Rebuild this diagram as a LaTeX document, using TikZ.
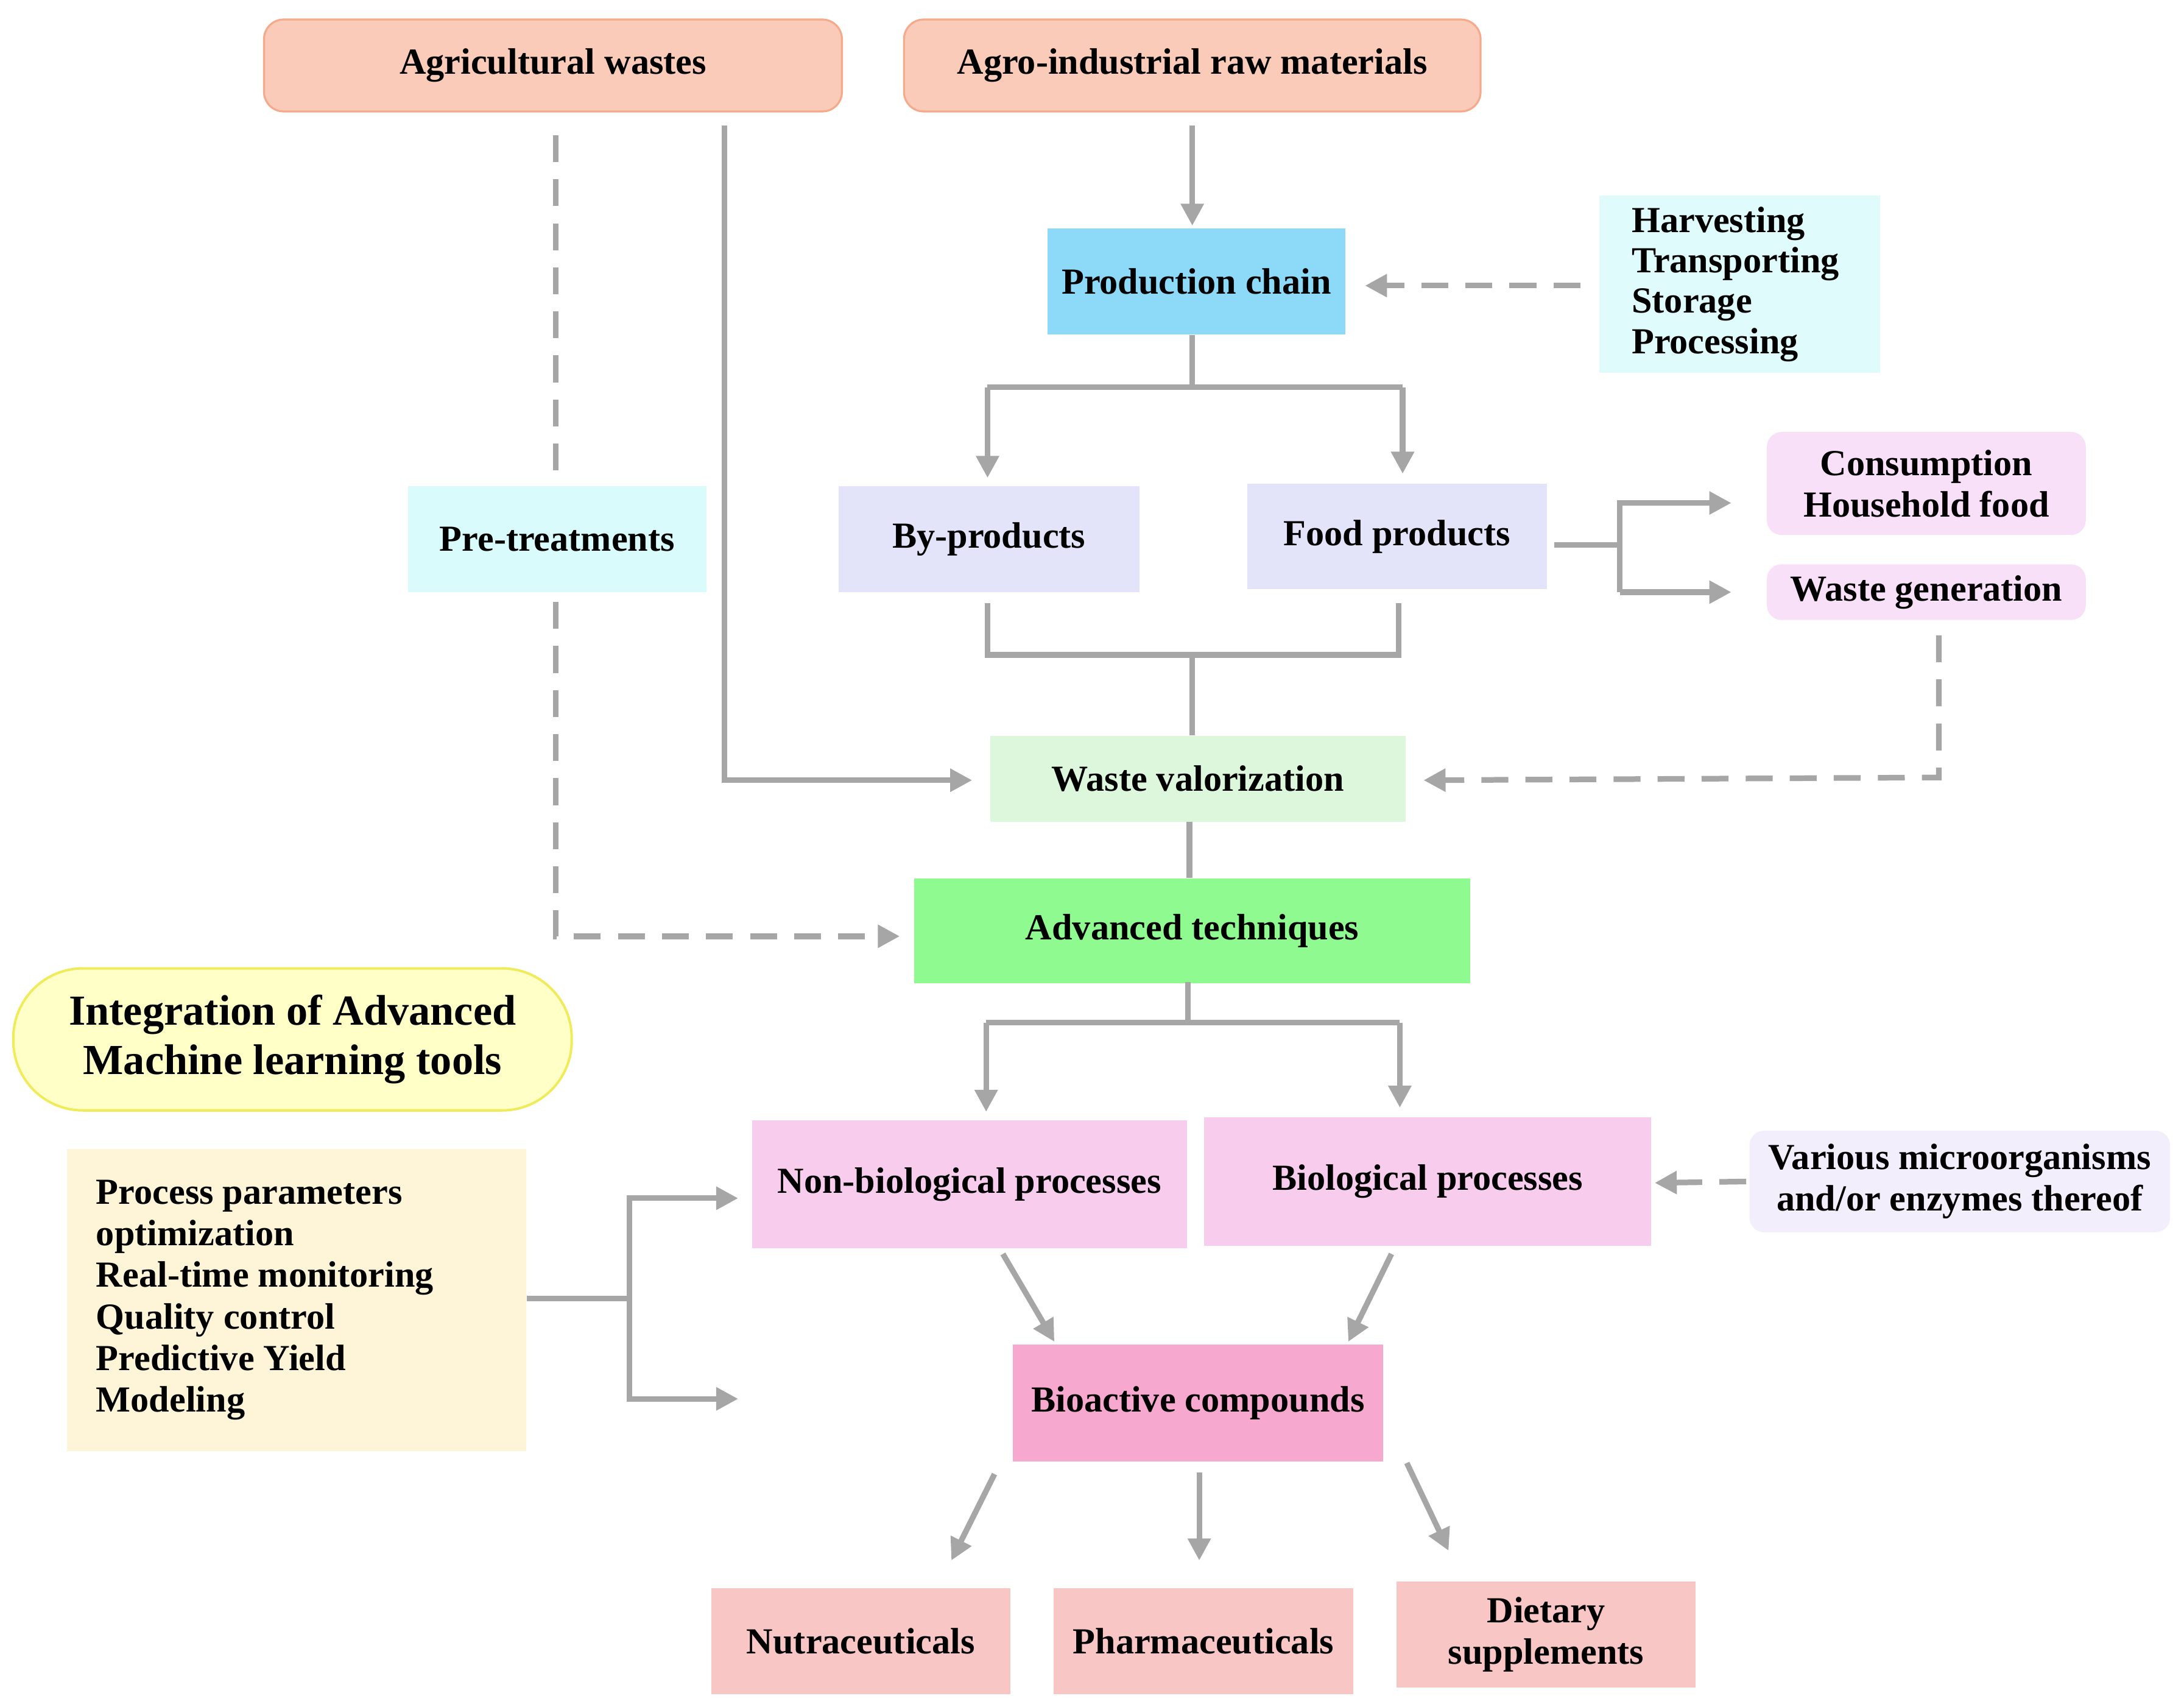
\documentclass[tikz,border=0pt]{standalone}
\usepackage{fontspec}
\setmainfont{Liberation Serif}
\usetikzlibrary{arrows.meta,calc}
\definecolor{ln}{HTML}{A6A6A6}
\tikzset{
 box/.style={draw=none,align=center,font=\bfseries\fontsize{15}{17}\selectfont,inner sep=0pt},
 con/.style={draw=ln,line width=2.3pt},
 arr/.style={con,-{Triangle[length=9pt,width=9pt]}},
 dsh/.style={dash pattern=on 11pt off 7pt}
}
\begin{document}
\begin{tikzpicture}[x=0.02cm,y=-0.02cm]
\useasboundingbox (0,0) rectangle (1568,1225);
\newcommand\bx[6]{\node[box,fill=#6,minimum width=#3*0.02cm,minimum height=#4*0.02cm] (#1) at (#2) {#5};}
\node[box,fill={rgb,255:red,249;green,203;blue,184},draw={rgb,255:red,245;green,170;blue,140},line width=0.8pt,rounded corners=8pt,minimum width=8.3cm,minimum height=1.32cm] (aw) at (397,47) {Agricultural wastes};
\node[box,fill={rgb,255:red,249;green,203;blue,184},draw={rgb,255:red,245;green,170;blue,140},line width=0.8pt,rounded corners=8pt,minimum width=8.28cm,minimum height=1.32cm] (ag) at (856,47) {Agro-industrial raw materials};
\bx{pc}{859,202}{214}{76}{Production chain}{cyan!45}
\node[box,fill={rgb,255:red,224;green,251;blue,251},minimum width=4.04cm,minimum height=2.54cm,align=flush left,text width=3.1cm,font=\bfseries\fontsize{15}{16.5}\selectfont] (hv) at (1249,204) {Harvesting\\Transporting\\Storage\\Processing};
\bx{pt}{400,387}{214}{76}{Pre-treatments}{{rgb,255:red,217;green,251;blue,251}}
\bx{bp}{710,387}{216}{76}{By-products}{{rgb,255:red,227;green,227;blue,250}}
\bx{fp}{1003,385}{215}{76}{Food products}{{rgb,255:red,227;green,227;blue,250}}
\node[box,fill={rgb,255:red,248;green,224;blue,248},rounded corners=6pt,minimum width=4.58cm,minimum height=1.48cm] (cs) at (1383,347) {Consumption\\Household food};
\node[box,fill={rgb,255:red,248;green,224;blue,248},rounded corners=6pt,minimum width=4.58cm,minimum height=0.8cm] (wg) at (1383,425) {Waste generation};
\bx{wv}{860,559}{298}{62}{Waste valorization}{{rgb,255:red,220;green,247;blue,220}}
\bx{at}{856,668}{399}{75}{Advanced techniques}{{rgb,255:red,143;green,250;blue,143}}
\node[box,fill={rgb,255:red,255;green,255;blue,200},draw={rgb,255:red,240;green,235;blue,90},line width=1pt,rounded corners=1cm,minimum width=8.02cm,minimum height=2.04cm,font=\bfseries\fontsize{17.5}{20}\selectfont] (ml) at (210,746) {Integration of Advanced\\Machine learning tools};
\node[box,fill={rgb,255:red,254;green,244;blue,216},minimum width=6.6cm,minimum height=4.34cm,align=flush left,text width=5.76cm,font=\bfseries\fontsize{15}{17}\selectfont] (pp) at (213,933) {Process parameters\\optimization\\Real-time monitoring\\Quality control\\Predictive Yield Modeling};
\bx{nb}{696,850}{312}{92}{Non-biological processes}{{rgb,255:red,248;green,204;blue,236}}
\bx{bi}{1025,848}{321}{92}{Biological processes}{{rgb,255:red,248;green,204;blue,236}}
\node[box,fill={rgb,255:red,243;green,238;blue,251},rounded corners=6pt,minimum width=6.04cm,minimum height=1.46cm] (vm) at (1407,848) {Various microorganisms\\and/or enzymes thereof};
\bx{ba}{860,1007}{266}{84}{Bioactive compounds}{{rgb,255:red,247;green,168;blue,207}}
\bx{nu}{618,1178}{215}{76}{Nutraceuticals}{{rgb,255:red,249;green,198;blue,198}}
\bx{ph}{864,1178}{215}{76}{Pharmaceuticals}{{rgb,255:red,249;green,198;blue,198}}
\bx{ds}{1110,1173}{215}{76}{Dietary\\supplements}{{rgb,255:red,249;green,198;blue,198}}
% connectors
\draw[arr] (ag.south |- 0,90) -- (ag.south |- 0,162);
\draw[arr,dsh] (hv.west |- 0,205) ++(-13,0) -- (980,205);
\draw[con] (pc.south -| 856,0) -- (856,278) coordinate (j1);
\draw[arr] (709,278) -- (709,343);
\draw[arr] (1007,278) -- (1007,340);
\draw[con] (709,278) -- (1007,278);
\draw[con] (fp.east |- 0,391) ++(5,0) -- (1163,391);
\draw[arr] (1163,425) -- (1163,361) -- (1243,361);
\draw[arr] (1163,425) -- (1243,425);
\draw[con] (709,433) -- (709,470) -- (1004,470) -- (1004,433);
\draw[con] (856,470) -- (wv.north -| 856,0);
\draw[arr] (520,90) -- (520,560) -- (698,560);
\draw[con,dsh] (399,97) -- (pt.north -| 399,0);
\draw[arr,dsh] (399,432) -- (399,672) -- (646,672);
\draw[arr,dsh] (1392,456) -- (1392,558) -- (1022,560);
\draw[con] (854,590) -- (854,630);
\draw[con] (853,705) -- (853,734);
\draw[con] (708,734) -- (1005,734);
\draw[arr] (708,734) -- (708,798);
\draw[arr] (1005,734) -- (1005,795);
\draw[con] (pp.east |- 0,932) -- (452,932);
\draw[arr] (452,932) -- (452,860) -- (530,860);
\draw[arr] (452,932) -- (452,1004) -- (530,1004);
\draw[arr,dsh] (vm.west) ++(-2,0) -- (1188,849);
\draw[arr] (720,900) -- (757,963);
\draw[arr] (999,900) -- (968,963);
\draw[arr] (714,1058) -- (683,1120);
\draw[arr] (861,1057) -- (861,1120);
\draw[arr] (1010,1050) -- (1040,1113);
\end{tikzpicture}
\end{document}
